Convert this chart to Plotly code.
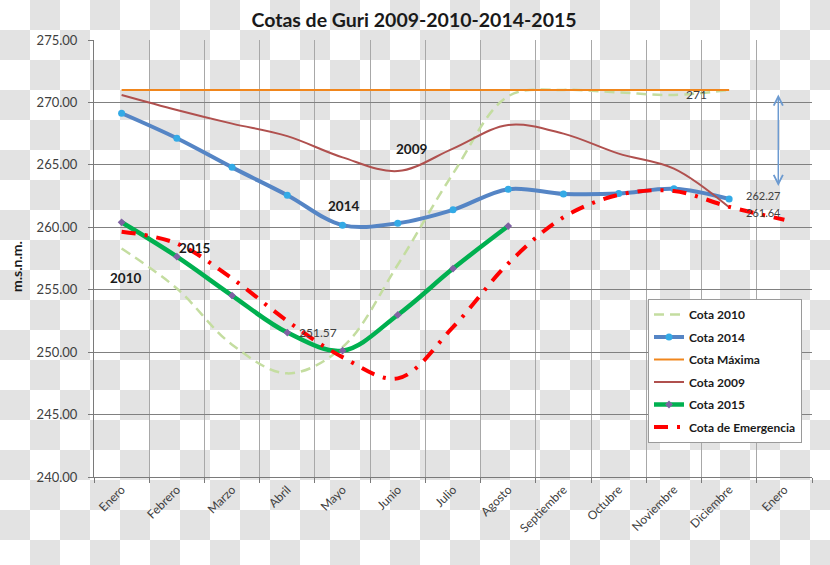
import base64
import plotly.graph_objects as go

# ---------------- data ----------------
months = ["Enero", "Febrero", "Marzo", "Abril", "Mayo", "Junio", "Julio",
          "Agosto", "Septiembre", "Octubre", "Noviembre", "Diciembre", "Enero"]
x_pos = list(range(len(months)))

cota_2010 = [258.3, 255.1, 250.6, 248.3, 250.4, 257.0, 264.3, 270.5, 271.0, 270.8, 270.6, 271.0, None]
cota_2014 = [269.13, 267.13, 264.8, 262.57, 260.17, 260.33, 261.4, 263.05, 262.67, 262.7, 263.08, 262.27, None]
cota_maxima = [271, 271, 271, 271, 271, 271, 271, 271, 271, 271, 271, 271, None]
cota_2009 = [270.6, 269.4, 268.3, 267.3, 265.6, 264.5, 266.3, 268.2, 267.5, 265.9, 264.7, 261.6, None]
cota_2015 = [260.4, 257.65, 254.53, 251.57, 250.12, 252.98, 256.69, 260.1, None, None, None, None, None]
cota_emergencia = [259.65, 258.7, 255.9, 252.5, 249.6, 247.9, 252.0, 257.1, 260.8, 262.6, 262.9, 261.64, 260.6]

y_ticks = [240, 245, 250, 255, 260, 265, 270, 275]

W, H = 830, 565
ML, MR, MT, MB = 94, 18, 40, 88
PW, PH = W - ML - MR, H - MT - MB

FONT = "Lato"

fig = go.Figure()

fig.add_trace(go.Scatter(
    x=x_pos, y=cota_2010, name="Cota 2010", mode="lines",
    line=dict(color="#C4DDA0", width=2.5, dash="10px,6px", shape="spline"),
    legendgroup="a", connectgaps=False))
fig.add_trace(go.Scatter(
    x=x_pos, y=cota_2014, name="Cota 2014", mode="lines+markers",
    line=dict(color="#5585C5", width=4, shape="spline"),
    marker=dict(color="#33AAE6", size=7, symbol="circle"),
    legendgroup="b"))
fig.add_trace(go.Scatter(
    x=x_pos, y=cota_maxima, name="Cota Máxima", mode="lines",
    line=dict(color="#F0861D", width=2),
    legendgroup="c"))
fig.add_trace(go.Scatter(
    x=x_pos, y=cota_2009, name="Cota 2009", mode="lines",
    line=dict(color="#B0504E", width=2, shape="spline"),
    legendgroup="d"))
fig.add_trace(go.Scatter(
    x=x_pos, y=cota_2015, name="Cota 2015", mode="lines+markers",
    line=dict(color="#00B050", width=4.5, shape="spline"),
    marker=dict(color="#7F62A3", size=6, symbol="diamond"),
    legendgroup="e"))
fig.add_trace(go.Scatter(
    x=x_pos, y=cota_emergencia, name="Cota de Emergencia", mode="lines",
    line=dict(color="#FF0000", width=4, dash="14px,9px,3px,9px", shape="spline"),
    legendgroup="f"))

# ---------------- annotations ----------------
ann = []
def px_to_x(px):
    return (px - ML) / (PW / 13.0) - 0.5
def py_to_y(py):
    return 275 - (py - MT) / (PH / 35.0)

for txt, px, py in [("2010", 125.5, 278), ("2015", 194, 247.5),
                    ("2014", 343.7, 206), ("2009", 411, 148.7)]:
    ann.append(dict(x=px_to_x(px), y=py_to_y(py), xref="x", yref="y", text=txt,
                    showarrow=False, font=dict(family=FONT, size=13.5, color="#1a1a1a", weight="bold")))

# data labels
ann.append(dict(x=3, y=cota_2015[3], xref="x", yref="y", text="251.57", showarrow=False,
                xshift=31, yshift=0, font=dict(family=FONT, size=12, color="#404040")))
ann.append(dict(x=11, y=cota_2014[11], xref="x", yref="y", text="262.27", showarrow=False,
                xshift=34, yshift=3, font=dict(family=FONT, size=11, color="#404040")))
ann.append(dict(x=11, y=cota_emergencia[11], xref="x", yref="y", text="261.64", showarrow=False,
                xshift=34, yshift=-6, font=dict(family=FONT, size=11, color="#404040")))
ann.append(dict(x=11, y=cota_2010[11], xref="x", yref="y", text="271", showarrow=False,
                xshift=-33, yshift=-5, font=dict(family=FONT, size=12, color="#404040")))

# double-headed arrow
ann.append(dict(x=px_to_x(778.3), y=py_to_y(186), ax=px_to_x(778.3), ay=py_to_y(93),
                xref="x", yref="y", axref="x", ayref="y", text="", showarrow=True,
                arrowhead=5, startarrowhead=5, arrowside="end+start", arrowsize=1.2,
                startarrowsize=1.2, arrowwidth=1.5, arrowcolor="#6C9AD0"))

# y-axis title
ann.append(dict(x=(16 - ML) / PW, y=(H - MB - 267) / PH, xref="paper", yref="paper",
                xanchor="center", yanchor="middle",
                text="m.s.n.m.", textangle=-90, showarrow=False,
                font=dict(family=FONT, size=14, color="#1a1a1a", weight="bold")))

# ---------------- background (transparency checkerboard) ----------------
svg = (
    '<svg xmlns="http://www.w3.org/2000/svg" width="830" height="565">'
    '<defs><pattern id="c" width="60" height="60" patternUnits="userSpaceOnUse">'
    '<rect width="60" height="60" fill="#ffffff"/>'
    '<rect x="30" y="0" width="30" height="30" fill="#e3e3e3"/>'
    '<rect x="0" y="30" width="30" height="30" fill="#e3e3e3"/>'
    '</pattern></defs><rect width="830" height="565" fill="url(#c)"/></svg>'
)
src = "data:image/svg+xml;base64," + base64.b64encode(svg.encode()).decode()

fig.update_layout(
    width=W, height=H, autosize=False,
    margin=dict(l=ML, r=MR, t=MT, b=MB, pad=0),
    paper_bgcolor="white", plot_bgcolor="rgba(0,0,0,0)",
    images=[dict(source=src, xref="paper", yref="paper", x=-ML / PW, y=1 + MT / PH,
                 sizex=W / PW, sizey=H / PH, xanchor="left", yanchor="top",
                 sizing="stretch", layer="below")],
    title=dict(text="Cotas de Guri 2009-2010-2014-2015", x=(414 - ML) / PW, xref="paper",
               xanchor="center", y=1 - 20 / H, yanchor="middle", yref="container",
               font=dict(family=FONT, size=19.5, color="#1a1a1a", weight="bold")),
    font=dict(family=FONT, color="#404040"),
    showlegend=True,
    legend=dict(x=(648 - ML) / PW, y=(H - MB - 299) / PH, xanchor="left", yanchor="top",
                bgcolor="white", bordercolor="#9a9a9a", borderwidth=1,
                font=dict(family=FONT, size=12, color="#1a1a1a", weight="bold"),
                traceorder="grouped", tracegroupgap=3.5),
    annotations=ann,
)

fig.update_xaxes(
    range=[-0.5, 12.5], tickmode="array", tickvals=x_pos, ticktext=months,
    tickangle=-45, ticks="", showgrid=False, zeroline=False,
    showline=True, linecolor="#7a7a7a", linewidth=1,
    tickfont=dict(family=FONT, size=12, color="#404040"),
    minor=dict(tickmode="linear", tick0=-0.5, dtick=1, showgrid=True,
               gridcolor="#a8a8a8", gridwidth=1, ticks="outside", ticklen=5,
               tickcolor="#7a7a7a"),
)
fig.update_yaxes(
    range=[240, 275], tickmode="array", tickvals=y_ticks,
    ticktext=[f"{v:.2f}" for v in y_ticks],
    ticks="outside", ticklen=5, tickcolor="#7a7a7a", ticklabelstandoff=8,
    showgrid=True, gridcolor="#808080", gridwidth=1, zeroline=False,
    showline=True, linecolor="#7a7a7a", linewidth=1,
    tickfont=dict(family=FONT, size=13, color="#404040"),
)

fig.write_html("out.html")
